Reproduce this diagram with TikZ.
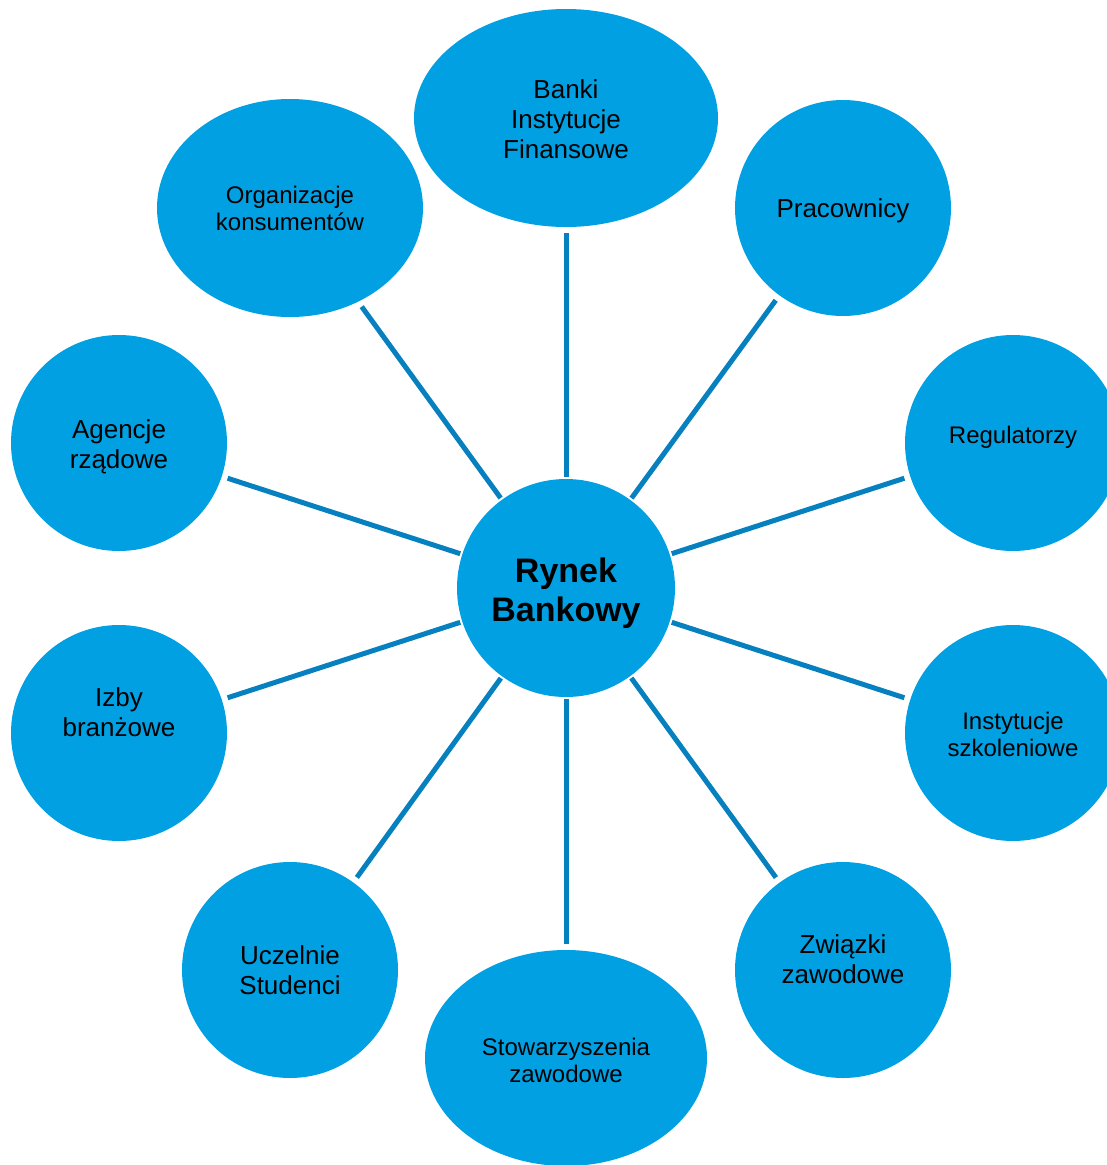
\documentclass[tikz,border=0pt]{standalone}
\usepackage{fontspec}
\setmainfont{Liberation Sans}
\usetikzlibrary{shapes.geometric}
\definecolor{nodeblue}{HTML}{00A0E3}
\definecolor{linkblue}{HTML}{0680BE}
\newcommand{\txtup}[1]{\rule[-#1pt]{0pt}{0pt}}
\newcommand{\txtdn}[1]{\rule{0pt}{#1pt}}
\begin{document}
\begin{tikzpicture}[x=1pt,y=-1pt,
  blob/.style={circle, fill=nodeblue, inner sep=0pt, minimum size=216pt, align=center, text=black},
  oval/.style={ellipse, fill=nodeblue, inner sep=0pt, align=center, text=black},
  big/.style={font=\fontsize{26}{30}\selectfont},
  small/.style={font=\fontsize{24}{27}\selectfont},
  link/.style={draw=linkblue, line width=5pt, shorten >=6pt, shorten <=2pt}]
\useasboundingbox (0,0) rectangle (1107,1165);

\node[circle, fill=nodeblue, inner sep=0pt, minimum size=218pt, align=center,
      font=\bfseries\fontsize{34}{39}\selectfont] (c) at (566,588) {\txtdn{35}Rynek\\Bankowy};

\node[oval, big, minimum width=304pt, minimum height=218pt] (banki) at (566,118) {\txtdn{21}Banki\\Instytucje\\Finansowe};
\node[blob, big] (prac) at (843,208) {\txtdn{25}Pracownicy};
\node[blob, small] (reg) at (1013,443) {Regulatorzy\txtup{17}};
\node[blob, small] (szk) at (1013,733) {\txtdn{21}Instytucje\\szkoleniowe};
\node[blob, big] (zw) at (843,970) {Związki\\zawodowe\txtup{21}};
\node[oval, small, minimum width=282pt, minimum height=216pt] (stow) at (566,1058) {\txtdn{22}Stowarzyszenia\\zawodowe};
\node[blob, big] (ucz) at (290,970) {Uczelnie\\Studenci};
\node[blob, big] (izby) at (119,733) {Izby\\branżowe\txtup{42}};
\node[blob, big] (ag) at (119,443) {\txtdn{27}Agencje\\rządowe};
\node[oval, small, minimum width=266pt, minimum height=218pt] (org) at (290,208) {Organizacje\\konsumentów};

\foreach \n in {banki,prac,reg,szk,zw,stow,ucz,izby,ag,org}
  \draw[link] (c) -- (\n);
\end{tikzpicture}
\end{document}
